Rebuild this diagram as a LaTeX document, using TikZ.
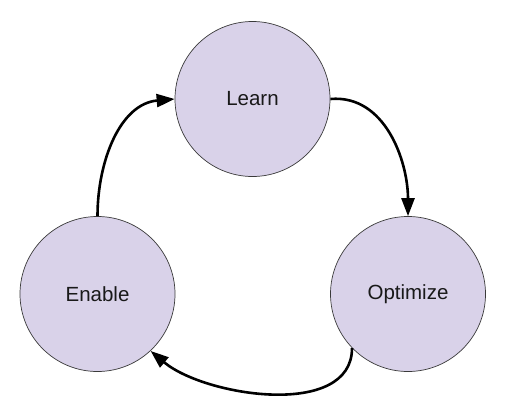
\documentclass[tikz,border=0pt]{standalone}
\usepackage{fontspec}
\setmainfont{Liberation Sans}
\usetikzlibrary{arrows.meta}
\definecolor{stagefill}{HTML}{D9D2E9}
\definecolor{stageline}{HTML}{3A3A3A}
\tikzset{stage/.style={circle, draw=stageline, line width=0.7pt, fill=stagefill, minimum size=155pt, inner sep=0pt, font=\fontsize{20.5}{24}\selectfont, text=black!90},
	cycle/.style={line width=2.6pt, -{Triangle[length=18pt,width=13pt]}}}

\begin{document}
\begin{tikzpicture}[x=1pt, y=1pt]
	\useasboundingbox (0,0) rectangle (508,416);
	\node[stage] (learn) at (252.5,317) {Learn}; \node[stage] (enable) at (97.5,122) {Enable}; \node[stage] (optimize) at (408,122) {Optimize};
	\draw[cycle] (enable.north) to [out=90, in=185] (learn.west);
	\draw[cycle] (learn.east) to [out=5, in=90] (optimize.north);
	\draw[cycle] (optimize.224) to [out=-90, in=-40, looseness=0.9] (enable.-47);
\end{tikzpicture}
\end{document}
